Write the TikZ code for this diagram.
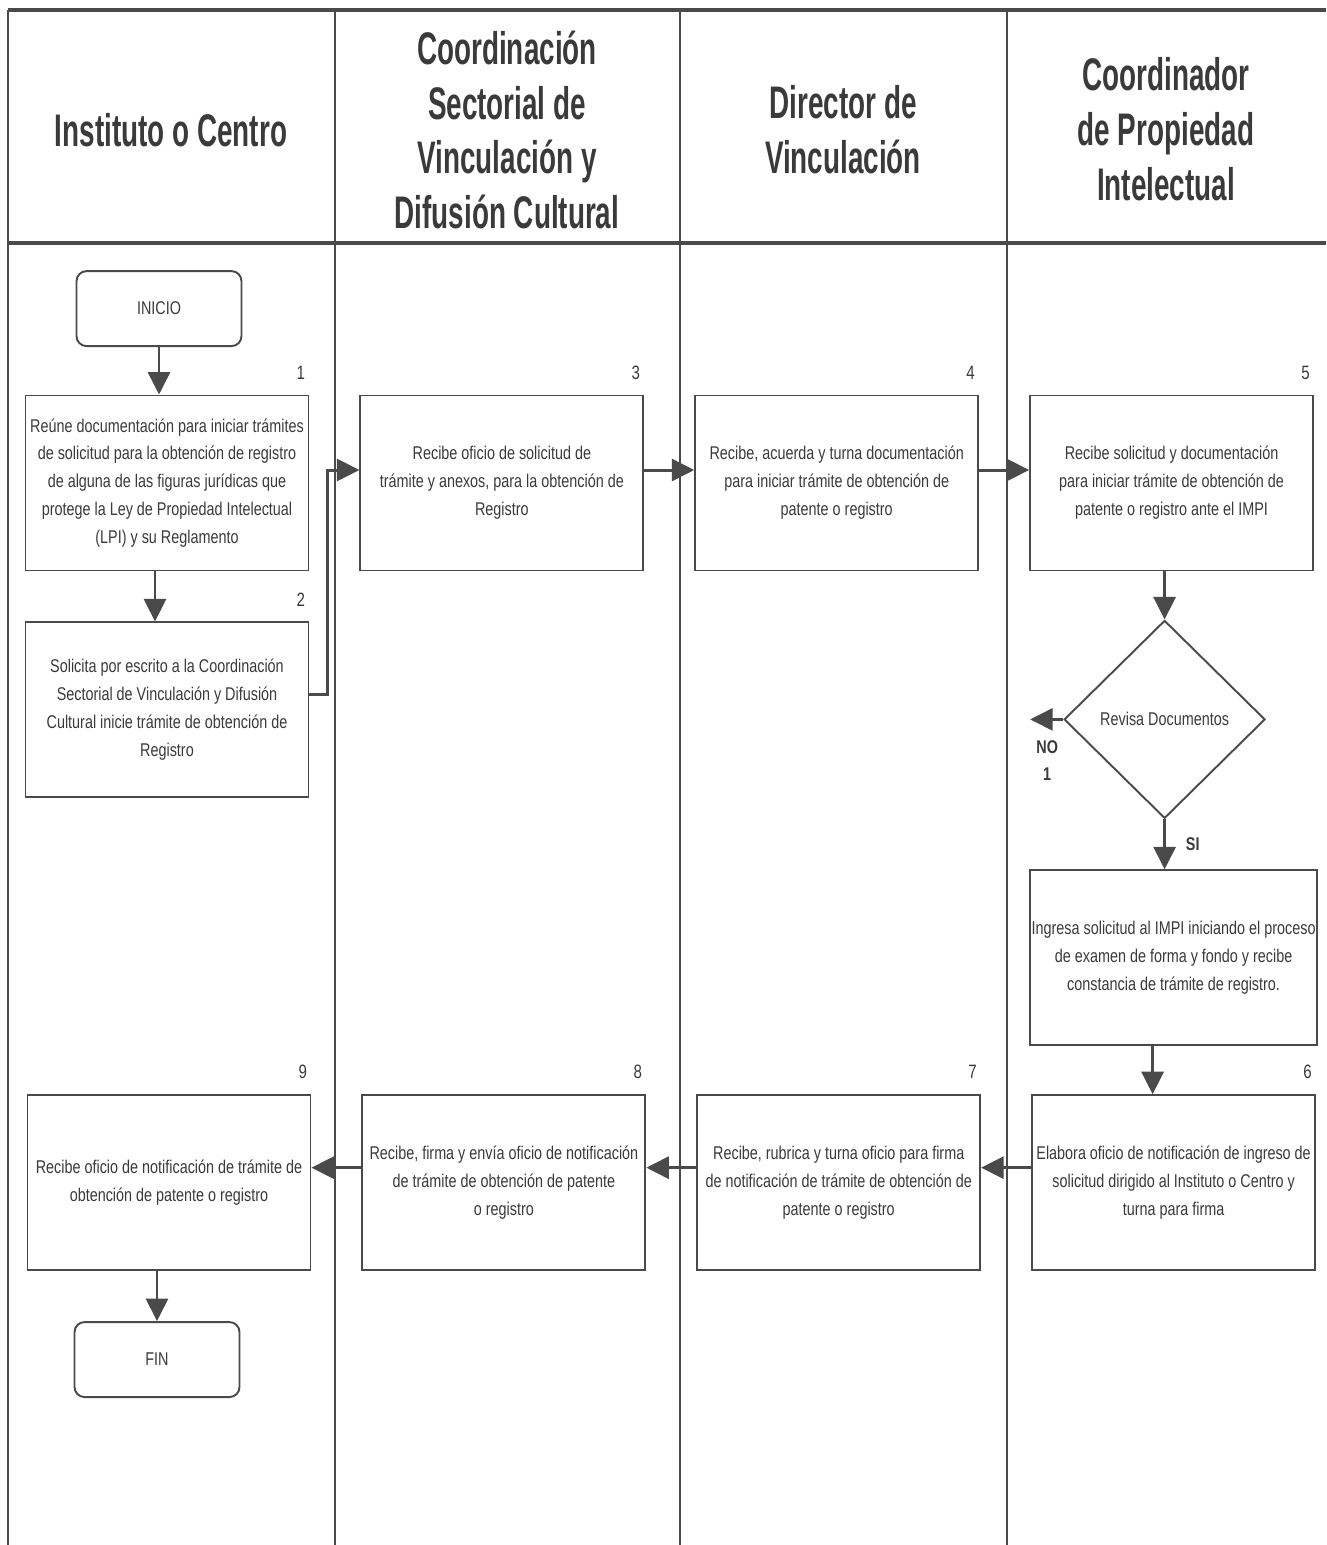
\documentclass[tikz,border=0pt]{standalone}
\usepackage{fontspec}
\setmainfont[FakeStretch=0.78]{Liberation Sans}
\newfontfamily\headfont[FakeStretch=0.61]{Liberation Sans}
\usetikzlibrary{positioning,shapes.geometric,arrows.meta}
\definecolor{linea}{HTML}{4A4A4A}
\definecolor{texto}{HTML}{3A3A3A}

\begin{document}
\begin{tikzpicture}[x=0.02cm, y=0.02cm,
    node distance=1cm and 1cm,
    every node/.style={text=texto},
    paso/.style={draw=linea, line width=1.1pt, minimum width=5.66cm, minimum height=3.5cm,
      align=center, inner sep=1pt, font=\fontsize{10.5}{15.9}\selectfont},
    terminal/.style={draw=linea, line width=1.1pt, rounded corners=0.2cm, minimum width=3.3cm,
      minimum height=1.5cm, font=\fontsize{10.5}{12}\selectfont},
    decision/.style={draw=linea, line width=1.1pt, diamond, aspect=1, minimum width=4.02cm,
      minimum height=3.96cm, inner sep=0pt, font=\fontsize{10.5}{12}\selectfont},
    num/.style={anchor=south east, inner xsep=0.08cm, inner ysep=0.3cm, font=\fontsize{11}{12}\selectfont},
    flecha/.style={draw=linea, line width=1.7pt, -{Triangle[length=0.45cm, width=0.44cm]}},
    carril/.style={draw=linea, line width=1pt},
    titulo/.style={align=center, font=\headfont\bfseries\fontsize{26}{31.2}\selectfont},
    rama/.style={align=center, font=\bfseries\fontsize{10.5}{15.3}\selectfont}]

  \useasboundingbox (0,0) rectangle (1326,-1545);

  \draw[carril, line width=2.2pt] (8,-10) -- (1326,-10);
  \draw[carril, line width=2.2pt] (8,-243) -- (1326,-243);
  \foreach \x in {8,335,680,1007}
    \draw[carril] (\x,-10) -- (\x,-1545);

  \node[titulo] (t1) at (171,-130) {Instituto o Centro};
  \node[titulo] (t2) at (507,-130) {Coordinación\\Sectorial de\\Vinculación y\\Difusión Cultural};
  \node[titulo] (t3) at (843,-130) {Director de\\Vinculación};
  \node[titulo] (t4) at (1166,-129) {Coordinador\\de Propiedad\\Intelectual};

  \node[paso, label={[num]north east:1}] (b1) at (167,-483)
    {Reúne documentación para iniciar trámites\\de solicitud para la obtención de registro\\de alguna de las figuras jurídicas que\\protege la Ley de Propiedad Intelectual\\(LPI) y su Reglamento};
  \node[terminal, above=of b1, xshift=-0.16cm, yshift=-0.05cm] (inicio) {INICIO};
  \node[paso, below=of b1, label={[num]north east:2}] (b2)
    {Solicita por escrito a la Coordinación\\Sectorial de Vinculación y Difusión\\Cultural inicie trámite de obtención de\\Registro};
  \node[paso, right=of b1, label={[num]north east:3}] (b3)
    {Recibe oficio de solicitud de\\trámite y anexos, para la obtención de\\Registro};
  \node[paso, right=of b3, label={[num]north east:4}] (b4)
    {Recibe, acuerda y turna documentación\\para iniciar trámite de obtención de\\patente o registro};
  \node[paso, right=of b4, label={[num]north east:5}] (b5)
    {Recibe solicitud y documentación\\para iniciar trámite de obtención de\\patente o registro ante el IMPI};
  \node[decision, below=0.96cm of b5, xshift=-0.14cm] (rev) {Revisa Documentos};
  \node[paso, below=of rev, xshift=0.18cm, minimum width=5.68cm] (ingresa)
    {Ingresa solicitud al IMPI iniciando el proceso\\de examen de forma y fondo y recibe\\constancia de trámite de registro.};
  \node[paso, below=0.96cm of ingresa, label={[num]north east:6}] (b6)
    {Elabora oficio de notificación de ingreso de\\solicitud dirigido al Instituto o Centro y\\turna para firma};
  \node[paso, left=of b6, label={[num]north east:7}] (b7)
    {Recibe, rubrica y turna oficio para firma\\de notificación de trámite de obtención de\\patente o registro};
  \node[paso, left=of b7, label={[num]north east:8}] (b8)
    {Recibe, firma y envía oficio de notificación\\de trámite de obtención de patente\\o registro};
  \node[paso, left=of b8, label={[num]north east:9}] (b9)
    {Recibe oficio de notificación de trámite de\\obtención de patente o registro};
  \node[terminal, below=of b9, xshift=-0.24cm] (fin) {FIN};

  \coordinate[left=0.66cm of rev.west] (no);

  \draw[flecha] (inicio.south) -- (inicio.south |- b1.north);
  \draw[flecha] ([xshift=-0.24cm]b1.south) -- ([xshift=-0.24cm]b2.north);
  \draw[flecha] ([yshift=0.3cm]b2.east) -- ++(0.36cm,0) |- ([yshift=0.26cm]b3.west);
  \draw[flecha] ([yshift=0.26cm]b3.east) -- ([yshift=0.26cm]b4.west);
  \draw[flecha] ([yshift=0.26cm]b4.east) -- ([yshift=0.26cm]b5.west);
  \draw[flecha] (rev.north |- b5.south) -- (rev.north);
  \draw[flecha] (rev.west) -- (no);
  \node[rama, below right=0.3cm and 0cm of no] (nolbl) {NO\\1};
  \draw[flecha] (rev.south) -- (rev.south |- ingresa.north) node[rama, midway, right=0.28cm] (silbl) {SI};
  \draw[flecha] ([xshift=-0.42cm]ingresa.south) -- ([xshift=-0.42cm]ingresa.south |- b6.north);
  \draw[flecha] ([yshift=0.3cm]b6.west) -- ([yshift=0.3cm]b7.east);
  \draw[flecha] ([yshift=0.3cm]b7.west) -- ([yshift=0.3cm]b8.east);
  \draw[flecha] ([yshift=0.3cm]b8.west) -- ([yshift=0.3cm]b9.east);
  \draw[flecha] (fin.north |- b9.south) -- (fin.north);
\end{tikzpicture}
\end{document}
